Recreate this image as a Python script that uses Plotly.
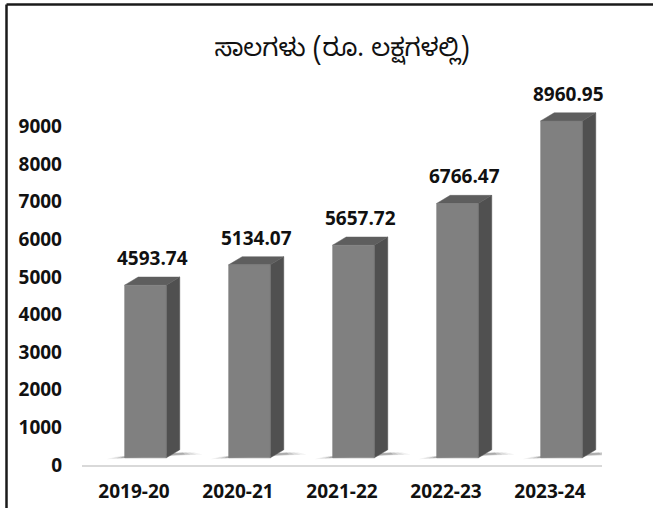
import plotly.graph_objects as go

categories = ["2019-20", "2020-21", "2021-22", "2022-23", "2023-24"]
values = [4593.74, 5134.07, 5657.72, 6766.47, 8960.95]
value_labels = ["4593.74", "5134.07", "5657.72", "6766.47", "8960.95"]
y_ticks = [0, 1000, 2000, 3000, 4000, 5000, 6000, 7000, 8000, 9000]
title_text = "ಸಾಲಗಳು (ರೂ. ಲಕ್ಷಗಳಲ್ಲಿ)"

W, H = 653, 508
L, R, T, B = 82, 51, 89, 43
FONT = "Open Sans, Noto Sans, sans-serif"

# 3D bar geometry (in axis units)
off = 0.11      # front face shift from category centre
hw = 0.20       # half width of front face
dx = 0.13       # depth in x
dy = 215        # depth in y (data units)
base = 190      # front face lift above floor

FRONT = "#808080"
TOP = "#5e5e5e"
SIDE = "#505050"

fig = go.Figure()

# soft shadows
for i, v in enumerate(values):
    xl = i + off - hw
    xr = i + off + hw
    for k, (ex, ey, op) in enumerate([(0.22, 120, 0.06), (0.16, 90, 0.08), (0.10, 60, 0.10), (0.05, 30, 0.13)]):
        xs = [xl - ex * 0.8, xr + dx + ex, xr + dx + ex * 0.6, xl - ex * 0.4, xl - ex * 0.8]
        ys = [base - ey * 0.3, base + dy * 0.4, base + dy * 0.7, base - ey * 0.1 + 40, base - ey * 0.3]
        fig.add_trace(go.Scatter(x=xs, y=ys, fill="toself", mode="none",
                                 fillcolor=f"rgba(0,0,0,{op})", hoverinfo="skip", showlegend=False))

for i, v in enumerate(values):
    xl = i + off - hw
    xr = i + off + hw
    top = v + base
    # side face
    fig.add_trace(go.Scatter(x=[xr, xr + dx, xr + dx, xr, xr], y=[base, base + dy, top + dy, top, base],
                             fill="toself", mode="lines", line=dict(color=SIDE, width=0.5),
                             fillcolor=SIDE, hoverinfo="skip", showlegend=False))
    # top face
    fig.add_trace(go.Scatter(x=[xl, xr, xr + dx, xl + dx, xl], y=[top, top, top + dy, top + dy, top],
                             fill="toself", mode="lines", line=dict(color=TOP, width=0.5),
                             fillcolor=TOP, hoverinfo="skip", showlegend=False))
    # front face
    fig.add_trace(go.Scatter(x=[xl, xr, xr, xl, xl], y=[base, base, top, top, base],
                             fill="toself", mode="lines", line=dict(color="#787878", width=0.5),
                             fillcolor=FRONT, hoverinfo="skip", showlegend=False))

annotations = []
for i, v in enumerate(values):
    annotations.append(dict(x=i + off + dx / 2, y=v + base + dy, xref="x", yref="y",
                            text=value_labels[i], showarrow=False, yanchor="bottom", yshift=4,
                            font=dict(family=FONT, size=19, color="#111111", weight="bold")))

pw = W - L - R
ph = H - T - B
shapes = [
    dict(type="line", xref="paper", yref="paper", x0=(6.5 - L) / pw, x1=(W - L) / pw,
         y0=(H - 4.5 - B) / ph, y1=(H - 4.5 - B) / ph, line=dict(color="#1a1a1a", width=2.5)),
    dict(type="line", xref="paper", yref="paper", x0=(6.5 - L) / pw, x1=(6.5 - L) / pw,
         y0=(H - 4.5 - B) / ph, y1=-B / ph, line=dict(color="#1a1a1a", width=2.5)),
]

fig.update_layout(
    width=W, height=H,
    margin=dict(l=L, r=R, t=T, b=B, pad=0),
    paper_bgcolor="white", plot_bgcolor="white",
    title=dict(text=title_text, x=0.5, xref="paper", y=1 - 47 / H, yanchor="middle",
               font=dict(family="Noto Sans Kannada, Noto Sans, sans-serif", size=25, color="#111111")),
    showlegend=False,
    annotations=annotations,
    shapes=shapes,
    xaxis=dict(range=[-0.5, 4.5], tickmode="array", tickvals=list(range(len(categories))),
               ticktext=categories, showgrid=False, zeroline=False, showline=True,
               linecolor="#d9d9d9", linewidth=1.5, ticks="", ticklabelstandoff=8, automargin=False,
               tickfont=dict(family=FONT, size=19, color="#111111", weight="bold"), fixedrange=True),
    yaxis=dict(range=[0, 10000], tickmode="array", tickvals=y_ticks, showgrid=False,
               zeroline=False, showline=False, ticks="", ticklabelstandoff=19, automargin=False,
               tickfont=dict(family=FONT, size=19, color="#111111", weight="bold"), fixedrange=True),
)

fig.write_html("out.html", config={"displayModeBar": False},
               post_script="document.body.style.margin='0';")
